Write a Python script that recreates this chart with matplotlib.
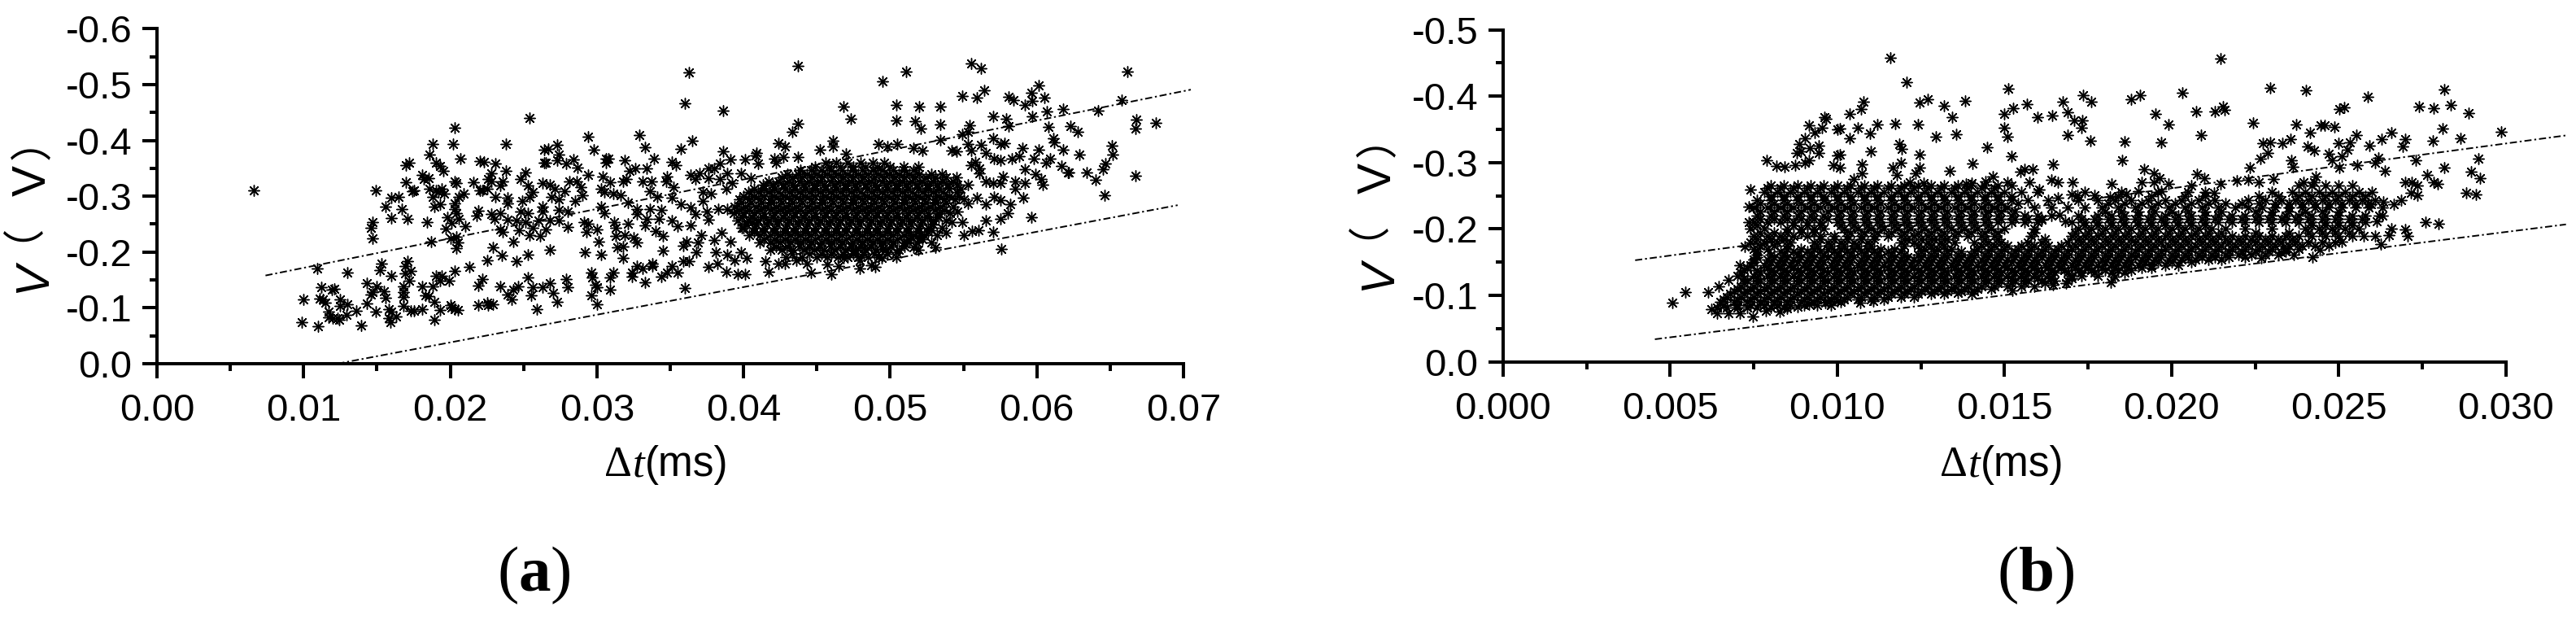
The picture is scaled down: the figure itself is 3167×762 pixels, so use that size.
#!/usr/bin/env python3
"""Two scatter panels of V against delta t, with the two bounding lines."""

import matplotlib

matplotlib.use("Agg")

from matplotlib.font_manager import FontProperties
from matplotlib.textpath import TextPath
import matplotlib.pyplot as plt
import numpy as np

W, H = 3167, 762
SANS = "Liberation Sans"
SERIF = "Liberation Serif"
CJK = "Noto Sans CJK SC"

# values below: x in microseconds, V in millivolts (magnitude)
a_xticks = ["0.00", "0.01", "0.02", "0.03", "0.04", "0.05", "0.06", "0.07"]
a_yticks = ["0.0", "-0.1", "-0.2", "-0.3", "-0.4", "-0.5", "-0.6"]
b_xticks = ["0.000", "0.005", "0.010", "0.015", "0.020", "0.025", "0.030"]
b_yticks = ["0.0", "-0.1", "-0.2", "-0.3", "-0.4", "-0.5"]

a_upper_x = [7.4, 70.5]
a_upper_y = [158, 491]
a_lower_x = [12.3, 69.6]
a_lower_y = [0, 284]
b_upper_x = [3.95, 31.8]
b_upper_y = [153, 341]
b_lower_x = [4.54, 31.8]
b_lower_y = [34, 207]

a_sparse = [
    (6.6, 310), (10.9, 171), (10.0, 115), (9.9, 74), (11.0, 67), (13.0, 163), (11.2, 137), (11.3, 115),
    (11.1, 117), (11.5, 110), (11.7, 94), (11.7, 83), (12.0, 81), (12.1, 134), (11.9, 133), (12.5, 115),
    (12.5, 103), (13.0, 106), (12.4, 78), (12.9, 87), (12.3, 81), (13.6, 95), (13.9, 69), (14.3, 108),
    (14.3, 144), (14.9, 94), (14.6, 124), (14.7, 129), (15.0, 138), (15.5, 130), (15.6, 118), (15.8, 97),
    (16.0, 94), (15.8, 81), (15.9, 74), (16.3, 84), (15.2, 168), (15.3, 179), (16.0, 157), (16.8, 139),
    (16.8, 129), (16.8, 120), (16.8, 103), (16.9, 162), (16.9, 175), (17.1, 184), (17.3, 166), (17.2, 149),
    (17.3, 95), (17.5, 95), (18.1, 98), (18.1, 139), (18.3, 122), (18.5, 121), (18.8, 139), (18.9, 111),
    (18.9, 78), (19.0, 157), (19.4, 157), (19.3, 149), (19.9, 148), (19.3, 96), (20.0, 105), (20.1, 100),
    (20.3, 97), (20.5, 96), (20.3, 166), (21.3, 173), (21.9, 140), (22.2, 151), (21.9, 105), (22.5, 110),
    (22.5, 185), (20.3, 423), (20.2, 394), (18.8, 393), (18.6, 374), (20.7, 368), (22.0, 363), (22.3, 361),
    (17.0, 356), (17.2, 360), (19.0, 360), (19.3, 354), (19.5, 345), (18.1, 338), (18.5, 333), (18.2, 331),
    (17.0, 325), (20.3, 326), (20.4, 323), (21.6, 325), (22.6, 331), (14.9, 311), (17.5, 311), (17.4, 309),
    (18.6, 314), (19.0, 311), (19.4, 314), (19.2, 307), (19.6, 304), (22.0, 311), (22.2, 311), (22.5, 314),
    (16.0, 297), (16.5, 299), (18.8, 299), (20.9, 305), (20.6, 299), (15.6, 281), (16.7, 277), (18.9, 282),
    (19.3, 285), (20.3, 287), (20.3, 277), (20.4, 270), (21.9, 274), (21.8, 265), (16.0, 261), (17.1, 259),
    (18.4, 253), (19.8, 263), (20.1, 252), (20.6, 259), (19.7, 242), (21.0, 246), (14.7, 253), (14.6, 243),
    (14.7, 225), (18.7, 219), (20.0, 225), (20.4, 227), (20.5, 217), (20.4, 207),
    (36.3, 522), (43.7, 534), (36.0, 467), (38.6, 453), (25.4, 440), (43.7, 430), (43.3, 416), (36.5, 400),
    (35.7, 385), (32.9, 410), (33.3, 388), (29.4, 406), (29.8, 383), (23.8, 393), (42.4, 395), (42.8, 389),
    (38.6, 381), (39.1, 366), (40.1, 366), (40.8, 373), (40.9, 377), (41.0, 359), (42.1, 367), (42.7, 370),
    (43.7, 370), (42.2, 360), (45.2, 383), (46.1, 399), (46.1, 389), (26.4, 384), (26.7, 385), (27.3, 392),
    (27.4, 374), (26.4, 360), (26.5, 360), (27.3, 364), (27.9, 359), (28.4, 366), (28.7, 352), (29.4, 338),
    (30.6, 367), (30.8, 368), (30.6, 360), (31.9, 364), (33.9, 367), (35.1, 362), (35.4, 355), (32.6, 350),
    (33.4, 350), (32.2, 345), (22.8, 341), (23.1, 358), (23.8, 345), (25.1, 342), (24.8, 331), (22.8, 326),
    (23.6, 326), (25.3, 319), (23.4, 319), (26.3, 323), (26.8, 321), (27.1, 314), (28.1, 326), (28.6, 327),
    (28.9, 316), (30.4, 336), (30.9, 325), (31.8, 326), (32.0, 331), (33.1, 326), (33.7, 326), (34.8, 336),
    (34.7, 326), (35.2, 316), (36.4, 338), (36.7, 331), (37.0, 341), (37.6, 350), (38.0, 350), (38.4, 358),
    (38.9, 341), (37.6, 333), (38.4, 331), (39.2, 324), (39.8, 341), (40.5, 333), (23.1, 299), (23.9, 297),
    (24.9, 292), (25.6, 307), (25.4, 299), (26.9, 299), (27.4, 294), (27.8, 309), (28.5, 292), (29.0, 302),
    (30.3, 314), (30.5, 307), (31.1, 304), (31.6, 302), (32.1, 288), (33.6, 309), (34.1, 299), (35.1, 297),
    (37.2, 307), (37.8, 304), (38.8, 313), (23.9, 287), (22.8, 268), (23.4, 270), (24.8, 273), (25.3, 270),
    (26.3, 282), (26.3, 273), (27.4, 275), (28.0, 273), (30.3, 282), (30.5, 270), (32.7, 277), (33.6, 277),
    (34.4, 275), (35.7, 285), (36.4, 280), (37.2, 292), (23.0, 260), (23.9, 258), (24.5, 256), (25.1, 253),
    (26.0, 256), (26.8, 256), (27.4, 256), (32.7, 268), (33.4, 260), (34.2, 260), (35.1, 256), (36.7, 268),
    (37.5, 273), (38.3, 277), (38.9, 277), (37.6, 258), (23.4, 241), (23.6, 236), (24.7, 239), (25.6, 243),
    (25.4, 231), (26.1, 229), (26.5, 241), (28.0, 245), (29.1, 253), (29.4, 251), (29.3, 236), (30.0, 241),
    (31.2, 253), (32.1, 251), (31.3, 243), (31.3, 229), (31.9, 231), (33.3, 248), (34.0, 238), (34.5, 229),
    (35.5, 246), (36.4, 248), (37.1, 231), (38.0, 222), (38.5, 234), (39.1, 219), (39.9, 243), (40.6, 253),
    (24.3, 218), (22.9, 209), (23.5, 194), (24.5, 183), (25.3, 195), (26.8, 204), (30.1, 218), (29.2, 199),
    (30.3, 195), (31.4, 209), (31.8, 210), (31.8, 189), (32.7, 217), (32.5, 226), (34.5, 202), (36.1, 219),
    (35.9, 212), (36.9, 217), (36.8, 200), (38.1, 200), (38.9, 195), (39.8, 200), (40.2, 190), (39.4, 185),
    (32.7, 175), (33.1, 171), (32.4, 163), (33.8, 180), (33.8, 175), (35.1, 175), (35.9, 183), (36.3, 183),
    (37.6, 174), (38.2, 180), (38.8, 165), (39.6, 161), (40.1, 161), (41.7, 165), (41.5, 183), (42.4, 180),
    (42.8, 180), (43.6, 185), (44.3, 180), (44.6, 163), (45.7, 178), (46.0, 161), (29.6, 163), (29.7, 154),
    (29.9, 141), (30.0, 137), (29.6, 122), (30.0, 106), (31.1, 163), (30.9, 155), (30.9, 132), (32.4, 156),
    (33.3, 146), (34.4, 156), (34.8, 163), (35.5, 163), (36.0, 135), (25.3, 155), (25.6, 137), (25.5, 122),
    (23.4, 139), (24.6, 139), (24.3, 132), (23.9, 124), (24.2, 115), (25.9, 98), (26.3, 137), (26.8, 144),
    (27.0, 127), (27.3, 111), (27.9, 151), (28.0, 137), (22.6, 105), (22.9, 107),
    (51.1, 523), (49.5, 506), (55.5, 538), (56.2, 529), (66.2, 523), (60.1, 498), (59.6, 485), (56.4, 490),
    (55.9, 476), (54.9, 480), (58.1, 478), (58.4, 472), (59.2, 464), (59.7, 471), (60.5, 477), (46.8, 461),
    (50.4, 464), (52.0, 460), (53.4, 461), (47.3, 439), (50.4, 436), (51.7, 434), (52.1, 421), (53.4, 428),
    (57.0, 443), (57.9, 439), (58.1, 425), (59.7, 443), (60.7, 452), (61.8, 456), (64.2, 454), (65.8, 472),
    (66.8, 438), (66.7, 421), (68.1, 431), (60.8, 424), (62.3, 425), (62.8, 415), (55.4, 427), (54.9, 411),
    (55.3, 416), (53.4, 401), (57.0, 404), (57.5, 393), (57.8, 395), (61.1, 404), (61.2, 397), (61.8, 383),
    (62.9, 375), (65.1, 391), (65.2, 374), (64.7, 359), (64.5, 349), (63.4, 343), (64.0, 330), (64.6, 302),
    (66.7, 337), (49.2, 394), (49.8, 389), (50.5, 393), (47.0, 376), (51.6, 387), (52.2, 382), (55.3, 394),
    (56.2, 392), (54.2, 382), (54.5, 380), (55.5, 382), (59.0, 387), (60.1, 384), (56.5, 377), (57.1, 367),
    (57.5, 365), (58.3, 367), (58.8, 372), (59.8, 367), (60.9, 367), (60.6, 360), (61.7, 354), (62.1, 343),
    (62.2, 343), (59.2, 348), (59.9, 340), (60.3, 331), (60.4, 321), (57.7, 336), (58.5, 326), (59.2, 324),
    (57.5, 324), (57.0, 324), (56.5, 326), (58.5, 314), (59.1, 298), (57.1, 299), (57.5, 293), (58.2, 286),
    (56.5, 285), (58.0, 270), (57.5, 259), (56.5, 256), (59.6, 263), (57.0, 236), (56.0, 239), (55.6, 238),
    (55.0, 230), (57.6, 205), (54.9, 254), (53.1, 208), (53.8, 234), (54.2, 253), (54.6, 273), (55.3, 287),
    (55.9, 297), (56.1, 341), (56.1, 350), (55.5, 355), (55.8, 362), (52.8, 239), (52.0, 224), (51.3, 222),
    (51.6, 209), (50.4, 200), (49.5, 205), (49.4, 190), (49.0, 173), (48.7, 176), (47.9, 171), (47.9, 185),
    (48.2, 207), (47.5, 202), (46.8, 190), (46.5, 175),
]

a_core_levels = [360, 347, 334, 321, 308, 295, 282, 269, 256, 243, 230, 217, 204, 191,
                 353, 340, 327, 314, 301, 288, 275, 262, 249, 236, 223, 210, 197]
a_core_x = [
    [45.6, 46.3, 47.1, 48.0, 48.8, 49.6],
    [43.9, 44.6, 45.3, 46.0, 46.7, 47.4, 48.1, 48.8, 49.5, 50.2, 50.9, 51.6],
    [42.6, 43.3, 44.0, 44.7, 45.4, 46.1, 46.8, 47.5, 48.2, 48.9, 49.6, 50.3, 51.0, 51.7, 52.4, 53.1, 53.8, 54.5],
    [41.3, 42.0, 42.7, 43.4, 44.1, 44.8, 45.5, 46.2, 46.9, 47.6, 48.3, 49.0, 49.7, 50.4, 51.1, 51.8, 52.5, 53.2, 53.9, 54.6, 55.3],
    [40.3, 41.0, 41.7, 42.4, 43.1, 43.8, 44.5, 45.2, 45.9, 46.6, 47.3, 48.0, 48.7, 49.4, 50.1, 50.8, 51.5, 52.2, 52.9, 53.6, 54.5],
    [39.7, 40.4, 41.1, 41.8, 42.5, 43.2, 43.9, 44.6, 45.3, 46.0, 46.7, 47.4, 48.1, 48.8, 49.5, 50.2, 50.9, 51.6, 52.3, 53.0, 53.7, 54.4, 55.0],
    [39.4, 40.1, 40.8, 41.5, 42.2, 42.9, 43.6, 44.3, 45.0, 45.7, 46.4, 47.1, 47.8, 48.5, 49.2, 49.9, 50.6, 51.3, 52.0, 52.7, 53.4, 54.3],
    [39.3, 40.0, 40.7, 41.4, 42.1, 42.8, 43.5, 44.2, 44.9, 45.6, 46.3, 47.0, 47.7, 48.4, 49.1, 49.8, 50.5, 51.2, 51.9, 52.6, 53.3, 54.1],
    [39.6, 40.3, 41.0, 41.7, 42.4, 43.1, 43.8, 44.5, 45.2, 45.9, 46.6, 47.3, 48.0, 48.7, 49.4, 50.1, 50.8, 51.5, 52.2, 52.9, 53.8],
    [40.0, 40.7, 41.4, 42.1, 42.8, 43.5, 44.2, 44.9, 45.6, 46.3, 47.0, 47.7, 48.4, 49.1, 49.8, 50.5, 51.2, 51.9, 52.6, 53.5],
    [40.4, 41.1, 41.8, 42.5, 43.2, 43.9, 44.6, 45.3, 46.0, 46.7, 47.4, 48.1, 48.8, 49.5, 50.2, 50.9, 51.6, 52.3, 53.2],
    [41.1, 41.8, 42.5, 43.2, 43.9, 44.6, 45.3, 46.0, 46.7, 47.4, 48.1, 48.8, 49.5, 50.2, 50.9, 51.8, 52.8],
    [41.8, 42.6, 43.4, 44.1, 44.8, 45.5, 46.2, 46.9, 47.6, 48.3, 49.0, 49.7, 50.6, 51.9],
    [42.9, 44.0, 45.0, 45.7, 46.4, 47.1, 47.8, 48.5, 49.2, 50.4],
    [44.9, 45.8, 46.6, 47.5, 48.3, 49.1, 50.0, 50.9, 51.9],
    [43.0, 43.7, 44.3, 45.0, 45.7, 46.4, 47.1, 47.8, 48.5, 49.2, 49.9, 50.6, 51.3, 52.0, 52.8, 53.5],
    [41.7, 42.4, 43.1, 43.8, 44.5, 45.2, 45.9, 46.6, 47.3, 48.0, 48.7, 49.4, 50.1, 50.8, 51.5, 52.2, 52.9, 53.6, 54.3],
    [40.7, 41.4, 42.1, 42.8, 43.5, 44.2, 44.9, 45.6, 46.3, 47.0, 47.7, 48.4, 49.1, 49.8, 50.5, 51.2, 51.9, 52.6, 53.3, 54.0, 54.8],
    [40.0, 40.7, 41.4, 42.1, 42.8, 43.5, 44.2, 44.9, 45.6, 46.3, 47.0, 47.7, 48.4, 49.1, 49.8, 50.5, 51.2, 51.9, 52.6, 53.3, 54.0, 54.7],
    [39.8, 40.5, 41.2, 41.9, 42.6, 43.3, 44.0, 44.7, 45.4, 46.1, 46.8, 47.5, 48.2, 48.9, 49.6, 50.3, 51.0, 51.7, 52.4, 53.1, 53.8],
    [39.7, 40.4, 41.1, 41.8, 42.5, 43.2, 43.9, 44.6, 45.3, 46.0, 46.7, 47.4, 48.1, 48.8, 49.5, 50.2, 50.9, 51.6, 52.3, 53.0, 53.7],
    [39.9, 40.6, 41.3, 42.0, 42.7, 43.4, 44.1, 44.8, 45.5, 46.2, 46.9, 47.6, 48.3, 49.0, 49.7, 50.4, 51.1, 51.8, 52.5, 53.3],
    [40.2, 40.9, 41.6, 42.3, 43.0, 43.7, 44.4, 45.1, 45.8, 46.5, 47.2, 47.9, 48.6, 49.3, 50.0, 50.7, 51.4, 52.1, 52.9],
    [40.7, 41.4, 42.1, 42.8, 43.5, 44.2, 44.9, 45.6, 46.3, 47.0, 47.7, 48.4, 49.1, 49.8, 50.5, 51.2, 51.9, 52.6],
    [41.4, 42.1, 42.8, 43.5, 44.2, 44.9, 45.6, 46.3, 47.0, 47.7, 48.4, 49.1, 49.8, 50.5, 51.2, 52.2],
    [42.2, 43.0, 43.8, 44.5, 45.2, 45.9, 46.6, 47.3, 48.0, 48.7, 49.4, 50.1, 51.0],
    [43.3, 44.5, 45.3, 46.0, 46.8, 47.5, 48.2, 48.9, 49.8],
]

b_sparse = [
    (5.06, 89), (5.45, 105), (6.14, 105), (6.44, 113), (6.75, 124), (7.08, 145), (7.24, 174), (7.36, 210),
    (7.4, 260), (7.36, 234), (7.88, 303), (8.17, 295), (8.41, 294), (8.74, 296), (9.02, 300), (9.15, 304),
    (8.78, 314), (8.9, 317), (9.18, 322), (9.45, 325), (9.45, 314), (8.86, 328), (9.02, 337), (9.31, 345),
    (9.14, 356), (9.53, 352), (9.61, 369), (9.65, 366), (10.0, 350), (10.0, 311), (9.89, 296), (6.22, 79),
    (6.39, 73), (6.75, 73), (7.08, 73), (7.46, 68), (7.85, 77), (8.28, 76), (8.5, 80), (8.82, 83),
    (9.14, 87), (9.63, 89), (10.0, 92),
    (11.58, 458), (12.06, 421), (10.78, 392), (10.70, 381), (10.36, 373), (12.45, 390), (12.71, 395), (13.2, 386),
    (13.83, 393), (13.44, 369), (15.11, 412), (15.27, 382), (15.0, 373), (15.67, 388), (16.0, 369), (16.43, 371),
    (16.75, 392), (16.89, 376), (17.36, 402), (17.6, 392), (17.08, 364), (17.32, 364), (17.3, 353), (14.98, 352),
    (15.1, 339), (16.9, 341), (17.58, 333), (18.8, 396), (19.06, 402), (19.53, 374), (20.31, 405), (19.91, 358),
    (18.6, 332), (19.7, 331), (18.53, 304), (10.08, 351), (10.62, 352), (10.36, 337), (10.98, 344), (11.2, 358),
    (11.74, 359), (12.41, 358), (12.94, 339), (13.56, 343), (11.86, 328), (11.93, 321), (10.99, 317), (10.08, 312),
    (12.47, 312), (14.47, 323), (14.05, 299), (15.21, 310), (11.9, 300), (11.66, 293), (10.74, 298), (10.08, 293),
    (12.47, 293), (13.36, 288), (11.78, 282), (12.35, 284), (10.73, 284), (10.48, 275), (12.16, 271), (12.59, 269),
    (14.66, 279), (14.42, 272), (14.01, 269), (13.85, 268), (15.08, 271), (15.49, 287), (15.59, 290), (15.84, 290),
    (16.46, 297), (15.74, 270), (16.4, 274), (16.6, 271), (17.04, 270), (16.04, 259), (16.59, 247), (17.01, 252),
    (17.17, 251), (17.7, 251), (18.21, 268), (18.15, 249), (18.63, 253), (19.18, 290), (19.46, 284), (19.65, 277),
    (19.1, 271), (19.48, 271), (19.91, 268), (19.69, 257), (19.0, 257), (16.12, 214), (16.65, 222), (16.81, 212),
    (16.83, 118), (17.31, 129), (18.19, 120), (18.29, 128), (18.59, 134), (13.6, 104), (14.01, 102), (10.69, 89),
    (11.07, 92), (16.44, 116), (15.23, 107),
    (21.46, 457), (22.94, 413), (24.03, 409), (25.87, 399), (28.15, 410), (27.4, 385), (27.85, 382), (28.35, 387),
    (28.88, 375), (20.74, 377), (21.29, 377), (21.55, 385), (21.59, 380), (20.89, 342), (22.45, 360), (23.74, 357),
    (24.47, 356), (24.59, 356), (24.88, 354), (25.02, 381), (25.16, 383), (24.15, 345), (22.73, 329), (22.96, 331),
    (23.31, 329), (23.56, 336), (22.88, 314), (22.66, 306), (24.07, 324), (24.27, 318), (24.69, 313), (25.0, 329),
    (25.34, 331), (25.54, 342), (25.27, 320), (25.08, 310), (25.92, 326), (26.28, 335), (26.57, 345), (27.0, 336),
    (26.91, 324), (27.82, 333), (28.1, 351), (28.65, 337), (29.87, 346), (29.18, 306), (28.16, 293), (27.3, 303),
    (26.18, 307), (23.58, 304), (22.35, 293), (23.62, 294), (25.55, 296), (26.09, 300), (24.8, 303), (25.02, 292),
    (26.38, 288), (20.76, 283), (20.99, 276), (21.47, 268), (21.96, 273), (22.3, 274), (22.6, 271), (23.05, 275),
    (28.95, 286), (29.24, 277), (27.64, 281), (27.84, 270), (27.96, 268), (28.81, 255), (29.11, 252), (26.99, 270),
    (27.19, 271), (27.35, 265), (27.35, 251), (27.15, 255), (26.87, 243), (26.66, 237), (26.34, 241), (25.97, 237),
    (27.6, 210), (27.98, 208), (26.31, 220), (26.14, 212), (26.58, 201), (26.99, 199), (27.07, 189), (26.5, 191),
    (26.09, 190), (25.75, 190), (26.27, 177), (25.08, 181), (24.43, 169), (24.21, 158), (23.66, 162), (23.26, 165),
    (22.69, 157), (21.27, 255), (24.31, 279), (24.27, 271), (23.95, 271),
]

b_core_levels = [82, 90, 98, 106, 114, 122, 130, 138, 146, 154, 162, 170, 180, 190, 200, 210, 220, 232, 244, 256, 266,
                 86, 94, 102, 110, 118, 126, 134, 142, 150, 158, 166, 175, 195, 215, 238, 250,
                 185, 205, 226, 262]
b_core_x = [
    [6.4, 6.7, 7.0, 7.3, 7.6, 8.0, 8.4],
    [6.5, 6.9, 7.3, 7.7, 8.1, 8.5, 8.9, 9.3, 9.7, 10.1],
    [6.7, 7.1, 7.5, 7.9, 8.3, 8.7, 9.1, 9.5, 9.9, 10.3, 10.7, 11.1, 11.5, 11.9, 12.3],
    [6.9, 7.3, 7.7, 8.1, 8.5, 8.9, 9.3, 9.7, 10.1, 10.5, 10.9, 11.3, 11.7, 12.1, 12.5, 12.9, 13.3, 13.7, 14.1],
    [7.1, 7.5, 7.9, 8.3, 8.7, 9.1, 9.5, 9.9, 10.3, 10.7, 11.1, 11.5, 11.9, 12.3, 12.7, 13.1, 13.5, 13.9, 14.3, 14.7, 15.1, 15.5, 15.9],
    [7.3, 7.7, 8.1, 8.5, 8.9, 9.3, 9.7, 10.1, 10.5, 10.9, 11.3, 11.7, 12.1, 12.5, 12.9, 13.3, 13.7, 14.1, 14.5, 14.9, 15.3, 15.7, 16.1, 16.5, 16.9],
    [7.0, 7.5, 7.9, 8.3, 8.7, 9.1, 9.5, 9.9, 10.3, 10.7, 11.1, 11.5, 11.9, 12.3, 12.7, 13.1, 13.5, 13.9, 14.3, 14.7, 15.1, 15.5, 15.9, 16.3, 17.0, 17.8],
    [7.2, 7.6, 8.0, 8.4, 8.8, 9.2, 9.6, 10.0, 10.4, 10.8, 11.2, 11.6, 12.0, 12.4, 12.8, 13.2, 13.6, 14.0, 14.4, 14.8, 15.2, 15.6, 16.0, 16.4, 16.8, 17.2, 17.6, 18.0, 18.4, 18.8],
    [7.4, 7.8, 8.2, 8.6, 9.0, 9.4, 9.8, 10.2, 10.6, 11.0, 11.4, 11.8, 12.2, 12.6, 13.0, 13.4, 13.8, 14.2, 14.6, 15.0, 15.4, 15.8, 16.2, 16.6, 17.0, 17.4, 17.8, 18.2, 18.6, 19.0, 19.4, 19.8, 20.2],
    [7.5, 7.9, 8.3, 8.7, 9.1, 9.5, 9.9, 10.3, 10.7, 11.1, 11.5, 11.9, 12.3, 12.7, 13.1, 13.5, 13.9, 14.3, 14.7, 15.1, 15.5, 15.9, 16.3, 16.7, 17.1, 17.5, 17.9, 18.3, 18.7, 19.1, 19.5, 19.9, 20.3, 20.7, 21.1, 21.5],
    [7.6, 8.0, 8.4, 8.8, 9.2, 9.6, 10.0, 10.4, 10.8, 11.2, 11.6, 12.0, 12.4, 12.8, 13.2, 13.6, 14.0, 14.4, 14.8, 15.2, 15.6, 16.0, 16.4, 16.8, 17.2, 17.6, 18.0, 18.4, 18.8, 19.2, 19.6, 20.0, 20.4, 20.8, 21.2, 21.6, 22.0, 22.4, 22.8, 23.2],
    [7.5, 7.9, 8.5, 8.9, 9.3, 9.7, 10.1, 10.5, 10.9, 11.3, 11.7, 12.6, 13.0, 13.4, 14.2, 14.6, 15.0, 15.4, 15.8, 16.2, 16.6, 17.0, 17.4, 17.8, 18.2, 18.6, 19.0, 19.4, 19.8, 20.2, 20.6, 21.0, 21.4, 21.8, 22.2, 22.6, 23.0, 23.4, 23.8],
    [7.4, 7.8, 8.2, 8.6, 9.3, 9.7, 10.1, 10.5, 10.9, 11.9, 12.3, 12.7, 13.1, 13.5, 14.1, 14.5, 14.9, 15.7, 16.1, 16.9, 17.3, 17.7, 18.1, 18.5, 18.9, 19.3, 19.7, 20.1, 20.5, 20.9, 21.3, 21.7, 22.1, 22.5, 22.9, 23.3, 23.7, 24.1, 24.5, 24.9],
    [7.5, 7.9, 8.3, 8.7, 9.1, 9.5, 9.9, 10.3, 10.7, 11.1, 11.5, 11.9, 12.3, 12.7, 13.1, 13.5, 13.9, 14.3, 14.7, 15.8, 17.0, 17.4, 17.8, 18.2, 18.6, 19.0, 19.4, 19.8, 20.2, 20.6, 21.0, 21.4, 21.8, 22.2, 22.6, 23.0, 23.4, 23.8, 24.2, 24.6, 25.0, 25.4],
    [7.4, 7.8, 8.5, 8.9, 9.3, 9.6, 10.2, 10.6, 11.0, 11.4, 11.8, 12.2, 12.6, 13.0, 13.4, 13.8, 14.2, 14.6, 15.0, 15.9, 17.2, 17.6, 18.0, 18.4, 18.8, 19.2, 19.6, 20.0, 20.4, 20.8, 21.2, 21.6, 22.2, 23.0, 24.0, 24.4, 24.8, 25.2, 25.6],
    [7.5, 7.9, 8.3, 8.7, 9.1, 9.5, 10.0, 10.4, 10.8, 11.2, 11.6, 12.0, 12.4, 12.8, 13.2, 13.6, 14.0, 14.4, 14.8, 15.2, 15.6, 16.0, 17.0, 17.4, 17.8, 18.2, 18.6, 19.0, 19.4, 19.8, 20.2, 20.6, 21.0, 21.4, 21.8, 22.2, 22.6, 23.0, 23.4, 23.8, 24.2, 24.6, 25.0, 25.4, 25.8],
    [7.6, 8.0, 8.4, 8.8, 9.2, 9.6, 10.0, 10.4, 10.8, 11.2, 11.6, 12.0, 12.4, 12.8, 13.2, 13.6, 14.0, 14.4, 14.8, 15.2, 15.6, 16.0, 16.4, 17.2, 17.8, 18.2, 18.6, 19.0, 19.4, 19.8, 20.2, 20.6, 21.0, 21.4, 21.8, 22.2, 22.6, 23.0, 23.4, 23.8, 24.2, 24.6, 25.0, 25.4, 25.8, 26.2],
    [7.5, 7.9, 8.3, 8.7, 9.1, 9.5, 9.9, 10.3, 10.7, 11.1, 11.5, 11.9, 12.3, 12.7, 13.1, 13.5, 13.9, 14.3, 14.7, 15.1, 15.9, 16.4, 16.9, 17.4, 17.9, 18.4, 18.9, 19.4, 19.9, 20.4, 20.9, 21.4, 21.9, 22.3, 22.7, 23.1, 23.5, 23.9, 24.3, 24.7, 25.1, 25.5, 25.9, 26.3],
    [7.6, 8.0, 8.4, 8.8, 9.2, 9.6, 10.0, 10.4, 10.8, 11.2, 11.6, 12.0, 12.4, 12.8, 13.2, 13.6, 14.0, 14.4, 14.8, 15.2, 15.7, 16.3, 17.2, 17.8, 18.3, 18.8, 19.3, 19.8, 20.3, 20.8, 21.3, 22.3, 22.8, 23.3, 23.7, 24.1, 24.5, 24.9, 25.3, 25.7, 26.1],
    [7.8, 8.2, 8.6, 9.0, 9.4, 9.8, 10.2, 10.6, 11.0, 11.4, 11.8, 12.2, 12.6, 13.0, 13.4, 13.8, 14.2, 14.6, 15.0, 15.5, 16.0, 17.4, 18.5, 19.6, 20.5, 21.0, 23.0, 23.6, 24.0, 24.4, 24.8, 25.2, 25.6, 26.0],
    [8.0, 8.4, 8.8, 9.2, 9.6, 10.0, 10.4, 10.8, 11.2, 11.6, 12.0, 12.4, 12.8, 13.2, 13.6, 14.0, 14.4, 14.8, 15.2, 20.6, 23.8, 24.2, 24.6, 25.0, 25.4],
    [6.6, 7.0, 7.4, 7.8, 8.2, 8.6, 9.0, 9.4, 9.8],
    [6.6, 7.0, 7.4, 7.8, 8.2, 8.6, 9.0, 9.4, 9.8, 10.2, 10.6, 11.0, 11.4],
    [6.8, 7.2, 7.6, 8.0, 8.4, 8.8, 9.2, 9.6, 10.0, 10.4, 10.8, 11.2, 11.6, 12.0, 12.4, 12.8, 13.2],
    [7.0, 7.4, 7.8, 8.2, 8.6, 9.0, 9.4, 9.8, 10.2, 10.6, 11.0, 11.4, 11.8, 12.2, 12.6, 13.0, 13.4, 13.8, 14.2, 14.6],
    [7.2, 7.6, 8.0, 8.4, 8.8, 9.2, 9.6, 10.0, 10.4, 10.8, 11.2, 11.6, 12.0, 12.4, 12.8, 13.2, 13.6, 14.0, 14.4, 14.8, 15.2, 15.6, 16.2],
    [7.2, 7.6, 8.0, 8.4, 8.8, 9.2, 9.6, 10.0, 10.4, 10.8, 11.2, 11.6, 12.0, 12.4, 12.8, 13.2, 13.6, 14.0, 14.4, 14.8, 15.2, 15.6, 16.0, 16.4, 17.0],
    [7.1, 7.7, 8.1, 8.5, 8.9, 9.3, 9.7, 10.1, 10.5, 10.9, 11.3, 11.7, 12.1, 12.5, 12.9, 13.3, 13.7, 14.1, 14.5, 14.9, 15.3, 15.7, 16.1, 16.5, 16.9, 17.3, 17.7, 18.2],
    [7.3, 7.9, 8.3, 8.7, 9.1, 9.5, 9.9, 10.3, 10.7, 11.1, 11.5, 11.9, 12.3, 12.7, 13.1, 13.5, 13.9, 14.3, 14.7, 15.1, 15.5, 15.9, 16.3, 16.7, 17.1, 17.5, 17.9, 18.3, 18.7, 19.1, 19.4],
    [7.5, 8.0, 8.4, 8.8, 9.2, 9.6, 10.0, 10.4, 10.8, 11.2, 11.6, 12.0, 12.4, 12.8, 13.2, 13.6, 14.0, 14.4, 14.8, 15.2, 15.6, 16.0, 16.4, 16.8, 17.2, 17.6, 18.0, 18.4, 18.8, 19.2, 19.6, 20.0, 20.6],
    [7.6, 8.1, 8.5, 8.9, 9.3, 9.7, 10.1, 10.5, 10.9, 11.3, 11.7, 12.1, 12.5, 12.9, 13.3, 13.7, 14.1, 14.5, 14.9, 15.3, 15.7, 16.1, 16.5, 16.9, 17.3, 17.7, 18.1, 18.5, 18.9, 19.3, 19.7, 20.1, 20.5, 20.9, 21.3, 21.7, 22.2],
    [7.6, 8.3, 8.7, 9.1, 9.5, 9.9, 10.3, 10.7, 11.1, 11.5, 11.9, 12.5, 12.9, 13.3, 13.7, 14.1, 14.5, 14.9, 15.3, 15.7, 16.1, 16.5, 16.9, 17.3, 17.7, 18.1, 18.5, 18.9, 19.3, 19.7, 20.1, 20.5, 20.9, 21.3, 21.7, 22.1, 22.5, 22.9, 23.4],
    [7.7, 8.1, 8.5, 9.4, 9.8, 10.2, 10.6, 11.0, 12.0, 12.4, 12.8, 13.2, 14.3, 14.7, 15.1, 15.5, 15.9, 16.3, 16.7, 17.1, 17.5, 17.9, 18.3, 18.7, 19.1, 19.5, 19.9, 20.3, 20.7, 21.1, 21.5, 21.9, 22.3, 22.7, 23.1, 23.5, 23.9, 24.3, 24.7],
    [7.7, 8.1, 8.5, 8.9, 9.3, 10.4, 10.8, 11.2, 11.6, 12.0, 12.4, 12.8, 13.2, 13.6, 14.0, 14.4, 14.8, 15.9, 17.1, 17.5, 17.9, 18.3, 18.7, 19.1, 19.5, 19.9, 20.3, 20.7, 21.1, 21.5, 22.5, 23.5, 24.1, 24.5, 24.9, 25.3],
    [7.7, 8.1, 8.5, 8.9, 9.3, 9.7, 10.1, 10.5, 10.9, 11.3, 11.7, 12.1, 12.5, 12.9, 13.3, 13.7, 14.1, 14.5, 14.9, 15.3, 15.7, 16.1, 17.3, 17.7, 18.1, 18.5, 18.9, 19.3, 19.7, 20.1, 20.5, 20.9, 21.3, 21.7, 22.1, 22.5, 22.9, 23.3, 23.7, 24.1, 24.5, 24.9, 25.3, 25.7],
    [7.7, 8.1, 8.5, 8.9, 9.3, 9.7, 10.1, 10.5, 10.9, 11.3, 11.7, 12.1, 12.5, 12.9, 13.3, 13.7, 14.1, 14.5, 14.9, 15.4, 18.1, 18.6, 19.1, 19.6, 20.1, 20.6, 21.1, 21.6, 22.1, 22.6, 23.1, 23.5, 23.9, 24.3, 24.7, 25.1, 25.5, 25.9],
    [8.0, 8.4, 8.8, 9.2, 9.6, 10.0, 10.4, 10.8, 11.2, 11.6, 12.0, 12.4, 12.8, 13.2, 13.6, 14.0, 14.4, 14.8, 15.2, 18.4, 19.4, 20.4, 21.0, 22.6, 23.2, 23.8, 24.2, 24.6, 25.0, 25.4, 25.8],
    [7.6, 8.0, 8.4, 9.5, 9.9, 10.3, 10.7, 11.1, 12.1, 12.5, 12.9, 13.3, 14.4, 14.8, 16.2, 17.2, 17.6, 18.0, 18.4, 18.8, 19.2, 19.6, 20.0, 20.4, 20.8, 21.2, 21.6, 22.0, 22.4, 22.8, 23.2, 23.6],
    [7.6, 8.7, 9.1, 9.5, 10.1, 10.5, 10.9, 11.3, 11.7, 12.1, 12.5, 12.9, 13.3, 13.7, 14.1, 14.5, 17.4, 17.8, 18.2, 18.6, 19.0, 19.4, 19.8, 20.2, 20.6, 21.0, 24.2, 24.6, 25.0, 25.4],
    [7.7, 8.1, 8.5, 8.9, 9.3, 9.7, 10.1, 10.5, 10.9, 11.3, 11.7, 12.1, 12.5, 12.9, 13.3, 13.7, 14.1, 14.5, 14.9, 15.3, 18.0, 18.5, 19.0, 19.5, 20.0, 20.5, 21.0, 21.5, 22.5, 23.0, 23.5, 24.0, 24.5, 25.0],
    [7.9, 8.3, 8.7, 9.1, 9.5, 9.9, 10.3, 10.7, 11.1, 11.5, 11.9, 12.3, 12.7, 13.1, 13.5, 13.9, 14.3, 14.7],
]


def draw_panel(ax, sparse, levels, core_x, xticks, yticks, lines):
    xs = [p[0] for p in sparse]
    ys = [p[1] for p in sparse]
    for level, row in zip(levels, core_x):
        xs.extend(row)
        ys.extend([level] * len(row))
    ax.scatter(
        np.array(xs) / 1000.0,
        -np.array(ys) / 1000.0,
        marker=(8, 2, 0),
        s=92,
        c="black",
        linewidths=1.05,
        clip_on=False,
        zorder=3,
    )
    for lx, ly in lines:
        ax.plot(
            np.array(lx) / 1000.0,
            -np.array(ly) / 1000.0,
            color="black",
            lw=1.4,
            ls=(0, (4.5, 1.8, 1.2, 1.8)),
            dash_capstyle="butt",
            clip_on=False,
            zorder=2,
        )

    xvals = [float(t) for t in xticks]
    yvals = [float(t) for t in yticks]
    ax.set_xticks(xvals)
    ax.set_xticklabels(xticks)
    ax.set_yticks(yvals)
    ax.set_yticklabels(yticks)
    ax.set_xticks((np.array(xvals[:-1]) + np.array(xvals[1:])) / 2, minor=True)
    ax.set_yticks((np.array(yvals[:-1]) + np.array(yvals[1:])) / 2, minor=True)
    ax.set_xlim(xvals[0], xvals[-1])
    ax.set_ylim(yvals[0], yvals[-1])
    ax.spines["top"].set_visible(False)
    ax.spines["right"].set_visible(False)
    ax.spines["left"].set_linewidth(2.9)
    ax.spines["bottom"].set_linewidth(2.9)
    ax.tick_params(which="major", length=13, width=2.9, labelsize=34, pad=9)
    ax.tick_params(which="minor", length=6.5, width=2.9)
    ax.tick_params(axis="x", which="major", pad=13)


def label_x(fig, left, y):
    # the delta and t are set in a serif face, the unit in a sans one
    fig.text(left / W, 1 - y / H, "\u0394", family=SERIF, fontsize=38, va="center", ha="left")
    fig.text((left + 35) / W, 1 - y / H, "t", family=SERIF, style="italic", fontsize=38, va="center", ha="left")
    fig.text((left + 50) / W, 1 - y / H, "(ms)", family=SANS, fontsize=37, va="center", ha="left")


def rotated_glyph(fig, text, family, style, size, cx, cy, nudge_x=0, nudge_y=0):
    """Put a glyph turned by 90 degrees with its ink about on pixel (cx, cy).

    Agg does not turn a glyph's side bearing with the glyph, hence the nudges.
    """
    prop = FontProperties(family=family, style=style, size=size)
    box = TextPath((0, 0), text, size=size, prop=prop).get_extents()
    scale = 100 / 72
    uc = (box.x0 + box.x1) / 2 * scale
    vc = (box.y0 + box.y1) / 2 * scale
    fig.text(
        (cx + vc + nudge_x) / W,
        (H - cy - uc - nudge_y) / H,
        text,
        family=family,
        style=style,
        fontsize=size,
        rotation=90,
        ha="left",
        va="baseline",
        rotation_mode="anchor",
    )


def label_y(fig, x, shift):
    rotated_glyph(fig, "V", SANS, "italic", 41, x, 312 + shift, nudge_y=24)
    rotated_glyph(fig, "\uff08", CJK, "normal", 37, x, 259 + shift, nudge_x=-42, nudge_y=-4)
    rotated_glyph(fig, "V", SANS, "normal", 41, x, 222 + shift)
    rotated_glyph(fig, "\uff09", CJK, "normal", 37, x, 187 + shift)


def main():
    plt.rcParams.update(
        {
            "font.family": SANS,
            "axes.unicode_minus": False,
            "mathtext.fontset": "custom",
            "mathtext.bf": SERIF + ":bold",
            "mathtext.rm": SERIF,
        }
    )
    fig = plt.figure(figsize=(W / 100, H / 100), dpi=100, facecolor="white")

    ax_a = fig.add_axes([193 / W, 1 - 447 / H, 1262 / W, 411.6 / H])
    ax_b = fig.add_axes([1848 / W, 1 - 444.7 / H, 1232.7 / W, 408 / H])

    draw_panel(
        ax_a, a_sparse, a_core_levels, a_core_x, a_xticks, a_yticks,
        [(a_upper_x, a_upper_y), (a_lower_x, a_lower_y)],
    )
    draw_panel(
        ax_b, b_sparse, b_core_levels, b_core_x, b_xticks, b_yticks,
        [(b_upper_x, b_upper_y), (b_lower_x, b_lower_y)],
    )

    label_x(fig, 743, 572)
    label_x(fig, 2385, 572)
    label_y(fig, 36, 0)
    label_y(fig, 1690, -3)

    for cx, name in ((656, "a"), (2503, "b")):
        fig.text(
            cx / W, 1 - 707 / H, "($\\mathbf{%s}$)" % name,
            family=SERIF, fontsize=57, va="center", ha="center",
        )

    fig.savefig("out.png", dpi=100, facecolor="white")
    plt.close(fig)


if __name__ == "__main__":
    main()
